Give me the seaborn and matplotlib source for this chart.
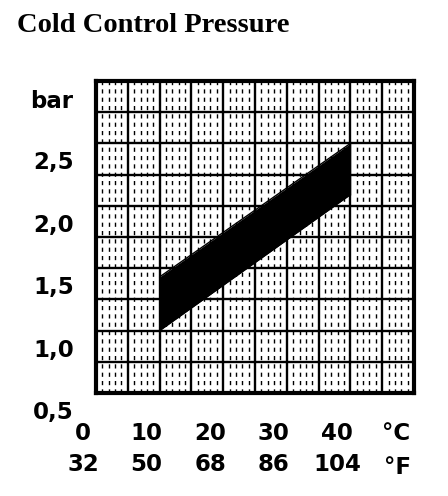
import numpy as np
import matplotlib
matplotlib.use("Agg")
import matplotlib.pyplot as plt
import matplotlib.transforms as mtransforms
import seaborn as sns

# ===== Data =====
temp_c = [10, 40]
pressure_low = [1.0, 2.09]
pressure_high = [1.43, 2.5]

x_ticks_c = [0, 10, 20, 30, 40]
x_ticks_f = [32, 50, 68, 86, 104]
y_ticks = [0.5, 1.0, 1.5, 2.0, 2.5]
y_labels = ["0,5", "1,0", "1,5", "2,0", "2,5"]

# ===== Style =====
sns.set_style("white")
plt.rcParams['font.family'] = ['DejaVu Sans']
plt.rcParams['text.color'] = 'black'
plt.rcParams['xtick.color'] = 'black'
plt.rcParams['ytick.color'] = 'black'
plt.rcParams['xtick.labelcolor'] = 'black'
plt.rcParams['ytick.labelcolor'] = 'black'

fig = plt.figure(figsize=(4.48, 4.96), dpi=100)
ax = fig.add_axes([96 / 448, 1 - 393 / 496, 318 / 448, 312 / 496])

ax.set_xlim(0, 50)
ax.set_ylim(0.5, 3.0)

# minor dotted verticals every 1 degC
for x in np.arange(1, 50, 1):
    if x % 5:
        ax.axvline(x, color="black", lw=1.0, ls=(0, (3, 3)), zorder=1)
# major grid
for x in np.arange(5, 50, 5):
    ax.axvline(x, color="black", lw=1.7, zorder=2)
for y in np.arange(0.75, 3.0, 0.25):
    ax.axhline(y, color="black", lw=1.7, zorder=2)

# ===== Pressure band =====
ax.fill_between(temp_c, pressure_low, pressure_high, color="black", lw=0, zorder=3)
sns.lineplot(x=temp_c, y=pressure_low, color="black", lw=1, ax=ax, zorder=3)
sns.lineplot(x=temp_c, y=pressure_high, color="black", lw=1, ax=ax, zorder=3)
ax.vlines([temp_c[0], temp_c[-1]], [pressure_low[0], pressure_low[-1]],
          [pressure_high[0], pressure_high[-1]], color="black", lw=1, zorder=3)

for s in ax.spines.values():
    s.set_visible(True)
    s.set_color("black")
    s.set_linewidth(3)

# ===== Ticks =====
ax.set_yticks(y_ticks)
ax.set_yticklabels(y_labels, fontsize=16.5, fontweight="bold", color="black")
ax.set_xticks(x_ticks_c)
ax.set_xticklabels([f"{c}\n{f}" for c, f in zip(x_ticks_c, x_ticks_f)],
                   fontsize=16.5, fontweight="bold", linespacing=1.45, color="black")
ax.tick_params(axis="y", length=0, pad=16)
ax.tick_params(axis="x", length=0, pad=21)

for lab in ax.get_yticklabels():
    lab.set_transform(lab.get_transform() +
                      mtransforms.ScaledTranslation(0, -0.17, fig.dpi_scale_trans))
for lab in ax.get_xticklabels():
    lab.set_transform(lab.get_transform() +
                      mtransforms.ScaledTranslation(-0.13, 0, fig.dpi_scale_trans))

# unit labels
fig.text(396 / 448, 1 - 433 / 496, "°C", fontsize=16.5, fontweight="bold",
         ha="center", va="center", color="black")
fig.text(397 / 448, 1 - 467 / 496, "°F", fontsize=16.5, fontweight="bold",
         ha="center", va="center", color="black")
fig.text(73 / 448, 1 - 101 / 496, "bar", fontsize=16.5, fontweight="bold",
         ha="right", va="center", color="black")

# title
fig.text(17 / 448, 1 - 26 / 496, "Cold Control Pressure", fontsize=20.5,
         fontweight="bold", family="Liberation Serif", ha="left", va="center",
         color="black")

fig.savefig("out.png", dpi=100)
